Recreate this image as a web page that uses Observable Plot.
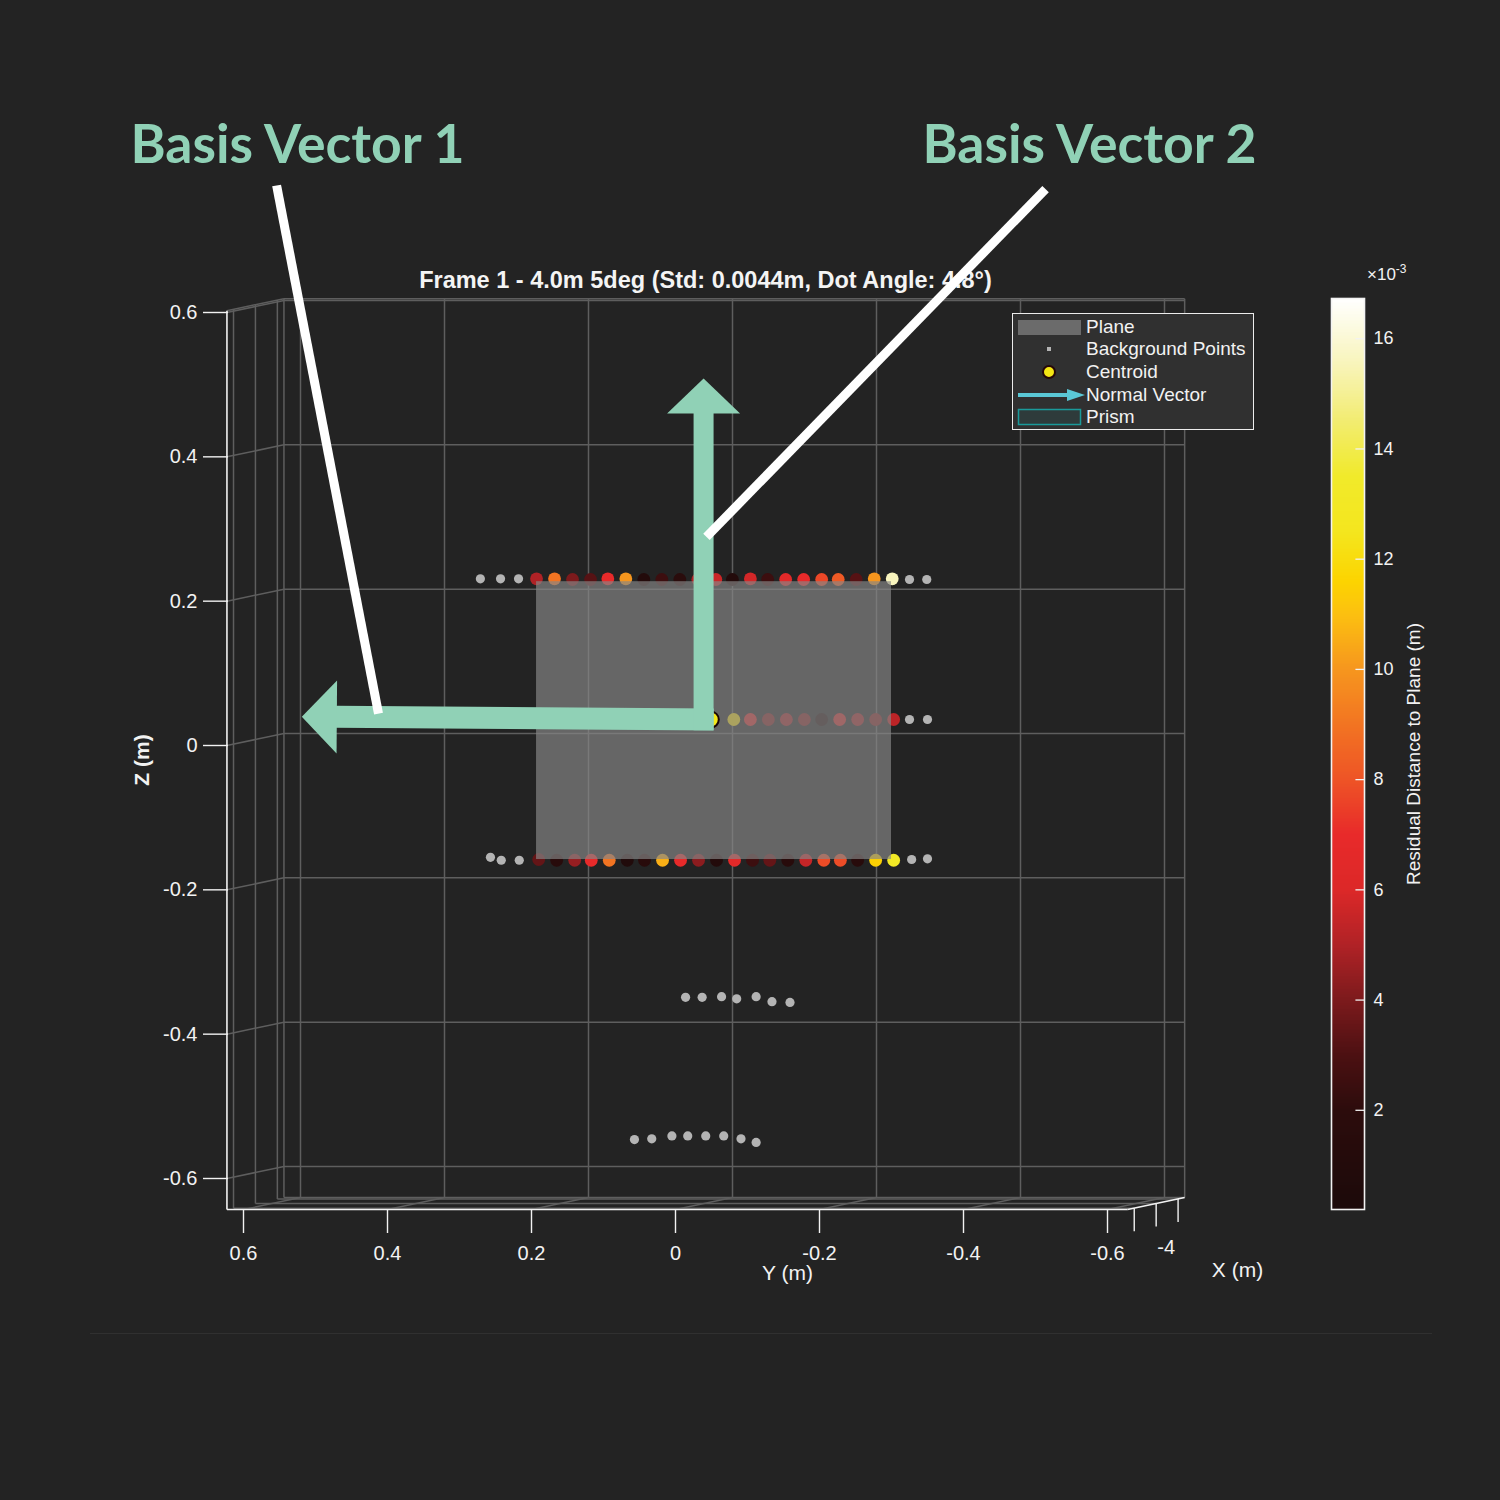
<!DOCTYPE html>
<html>
<head>
<meta charset="utf-8">
<script src="https://cdn.jsdelivr.net/npm/d3@7"></script>
<script src="https://cdn.jsdelivr.net/npm/@observablehq/plot@0.6"></script>
<style>
  html, body { margin: 0; padding: 0; background: #232323; }
  #page { position: relative; width: 1500px; height: 1500px; background: #232323; overflow: hidden;
          font-family: "Liberation Sans", Arial, sans-serif; color: #f2f2f2; }
  #main, #cbar { position: absolute; top: 0; }
  #main { left: 0; }
  #cbar { left: 1300px; }
  #legend { position: absolute; left: 1012px; top: 313px; width: 242px; height: 117px;
            border: 1.5px solid #ececec; background: #303030; box-sizing: border-box; }
  #legend .row { position: absolute; left: 73px; font-size: 19px; line-height: 22px; color: #f2f2f2; white-space: nowrap; }
  #legend svg { position: absolute; left: 0; top: 0; }
  #exp { position: absolute; left: 1367px; top: 262px; font-size: 17px; color: #f2f2f2; }
  #exp sup { font-size: 12px; }
  #sep { position: absolute; left: 90px; top: 1333px; width: 1342px; height: 0; border-top: 1px solid #303030; }
</style>
</head>
<body>
<div id="page">
  <div id="main"></div>
  <div id="cbar"></div>
  <div id="legend">
    <svg width="242" height="117">
      <rect x="5" y="6" width="63" height="15" fill="#6b6b6b"></rect>
      <rect x="34" y="33" width="4" height="4" fill="#b4b4b4"></rect>
      <circle cx="36" cy="58" r="6" fill="#f5e614" stroke="#260808" stroke-width="2"></circle>
      <line x1="5" y1="81" x2="58" y2="81" stroke="#5ac8d6" stroke-width="4"></line>
      <polygon points="54,75 72,81 54,87" fill="#5ac8d6"></polygon>
      <rect x="5.5" y="95.5" width="62" height="15" fill="#2e3b3b" stroke="#1a9a9a" stroke-width="1.5"></rect>
    </svg>
    <div class="row" style="top:2px">Plane</div>
    <div class="row" style="top:24px">Background Points</div>
    <div class="row" style="top:47px">Centroid</div>
    <div class="row" style="top:70px">Normal Vector</div>
    <div class="row" style="top:92px">Prism</div>
  </div>
  <div id="exp">×10<sup>-3</sup></div>
  <div id="sep"></div>
</div>
<script>
// ---------------- data ----------------
const chartTitle = "Frame 1 - 4.0m 5deg (Std: 0.0044m, Dot Angle: 4.8°)";
const yTicks = [0.6, 0.4, 0.2, 0, -0.2, -0.4, -0.6];          // horizontal axis "Y (m)"
const zTicks = [0.6, 0.4, 0.2, 0, -0.2, -0.4, -0.6];          // vertical axis "Z (m)"
const xTicks = [-4.05, -4, -3.95];                             // depth axis "X (m)"
const xTickLabels = ["", "-4", ""];
const boxY = [0.623, -0.628];
const boxZ = [0.6025, -0.643];
const boxX = [-4.065, -3.935];

// residual colour map (m)
const resStops  = [0.0002, 0.002, 0.003, 0.004, 0.005, 0.006, 0.007, 0.008, 0.009, 0.010, 0.011, 0.0116, 0.0125, 0.0135, 0.0145, 0.0155, 0.01673];
const resColors = ["#1c0a0a","#2c0c0c","#4c1012","#7c1a1c","#b02226","#dc2828","#e82a2a","#ee5426","#f27422","#f6961e","#fcc010","#fcd400","#f4e61e","#f1ea2a","#f2ec70","#f8f4b8","#ffffff"];
const cbTicks = [0.002, 0.004, 0.006, 0.008, 0.010, 0.012, 0.014, 0.016];
const cbLabel = "Residual Distance to Plane (m)";

// prism points (top edge)
const topRowY   = [0.193,0.168,0.143,0.118,0.094,0.069,0.044,0.019,-0.006,-0.031,-0.056,-0.079,-0.104,-0.128,-0.153,-0.178,-0.203,-0.226,-0.251,-0.276,-0.301];
const topRowZ   = [0.231,0.231,0.230,0.230,0.231,0.231,0.230,0.230,0.230,0.230,0.230,0.230,0.231,0.230,0.230,0.230,0.230,0.230,0.230,0.231,0.231];
const topRowRes = [0.0050,0.0090,0.0040,0.0032,0.0070,0.0100,0.0010,0.0025,0.0018,0.0050,0.0056,0.0010,0.0058,0.0025,0.0065,0.0070,0.0077,0.0082,0.0032,0.0100,0.0156];
// prism points (middle)
const midRowY   = [-0.081,-0.104,-0.129,-0.154,-0.179,-0.203,-0.228,-0.253,-0.278,-0.303];
const midRowZ   = [0.036,0.036,0.036,0.036,0.036,0.036,0.036,0.036,0.036,0.036];
const midRowRes = [0.0120,0.0060,0.0042,0.0048,0.0042,0.0008,0.0058,0.0048,0.0042,0.0053];
// prism points (bottom edge)
const botRowY   = [0.190,0.165,0.140,0.117,0.092,0.067,0.043,0.018,-0.007,-0.032,-0.057,-0.082,-0.107,-0.131,-0.156,-0.181,-0.206,-0.229,-0.253,-0.278,-0.303];
const botRowZ   = [-0.158,-0.159,-0.159,-0.159,-0.159,-0.159,-0.159,-0.159,-0.159,-0.159,-0.159,-0.159,-0.159,-0.159,-0.159,-0.159,-0.159,-0.159,-0.159,-0.159,-0.159];
const botRowRes = [0.0035,0.0015,0.0045,0.0070,0.0090,0.0008,0.0015,0.0106,0.0070,0.0043,0.0010,0.0065,0.0025,0.0035,0.0015,0.0055,0.0078,0.0078,0.0015,0.0115,0.0132];

// background points
const bgY = [0.271,0.243,0.218,-0.325,-0.349, -0.325,-0.350, 0.257,0.242,0.217,-0.328,-0.350,
             -0.014,-0.037,-0.064,-0.085,-0.112,-0.134,-0.159,
             0.057,0.033,0.005,-0.017,-0.042,-0.067,-0.091,-0.112];
const bgZ = [0.231,0.231,0.231,0.230,0.230, 0.036,0.036, -0.155,-0.159,-0.159,-0.158,-0.157,
             -0.349,-0.349,-0.348,-0.351,-0.348,-0.355,-0.356,
             -0.546,-0.545,-0.541,-0.541,-0.541,-0.541,-0.545,-0.550];

// centroid and fitted plane
const centroidY = [-0.049];
const centroidZ = [0.036];
const planeY = [0.193, -0.300];
const planeZ = [-0.158, 0.227];

// basis vectors (from, tip)
const basis1Y = [-0.053, 0.519];
const basis1Z = [0.036, 0.040];
const basis2Y = [-0.039, -0.039];
const basis2Z = [0.021, 0.5085];

// call-out lines and labels
const callout1Y = [0.554, 0.4125];
const callout1Z = [0.776, 0.0443];
const callout2Y = [-0.514, -0.043];
const callout2Z = [0.771, 0.289];
const basisLabels = ["Basis Vector 1", "Basis Vector 2"];
const basisLabelY = [0.757, -0.343];
const basisLabelZ = [0.831, 0.831];

// ---------------- layout / projection ----------------
const xRange = [243, 1107];
const yRange = [312, 1178];
const pxPerY = (xRange[1] - xRange[0]) / 1.2;
const pxPerZ = (yRange[1] - yRange[0]) / 1.2;
const depthShift = [57, 12]; // pixels: back plane shift right / up
function proj(X, Y, Z) {
  const t = (X - boxX[0]) / (boxX[1] - boxX[0]);
  return {x: Y - t * depthShift[0] / pxPerY, y: Z + t * depthShift[1] / pxPerZ};
}
function seg(a, b) { return {x1: a.x, y1: a.y, x2: b.x, y2: b.y}; }

const front = boxX[0], back = boxX[1];
const grid = [];
for (const y of yTicks) grid.push(seg(proj(back, y, boxZ[0]), proj(back, y, boxZ[1])));
for (const z of zTicks) grid.push(seg(proj(back, boxY[0], z), proj(back, boxY[1], z)));
grid.push(seg(proj(back, boxY[0], boxZ[0]), proj(back, boxY[0], boxZ[1])));
grid.push(seg(proj(back, boxY[1], boxZ[0]), proj(back, boxY[1], boxZ[1])));
grid.push(seg(proj(back, boxY[0], boxZ[0]), proj(back, boxY[1], boxZ[0])));
grid.push(seg(proj(back, boxY[0], boxZ[1]), proj(back, boxY[1], boxZ[1])));
for (const z of [...zTicks, boxZ[0]]) grid.push(seg(proj(front, boxY[0], z), proj(back, boxY[0], z)));
for (const X of xTicks) grid.push(seg(proj(X, boxY[0], boxZ[0]), proj(X, boxY[0], boxZ[1])));
for (const y of yTicks) grid.push(seg(proj(front, y, boxZ[1]), proj(back, y, boxZ[1])));
for (const X of xTicks) grid.push(seg(proj(X, boxY[0], boxZ[1]), proj(X, boxY[1], boxZ[1])));

const axisLines = [
  seg(proj(front, boxY[0], boxZ[0]), proj(front, boxY[0], boxZ[1])),
  seg(proj(front, boxY[0], boxZ[1]), proj(front, boxY[1], boxZ[1])),
  seg(proj(front, boxY[1], boxZ[1]), proj(back, boxY[1], boxZ[1]))
];
const depthTickLen = 23 / pxPerZ;
const depthTicks = xTicks.map((X, i) => {
  const p = proj(X, boxY[1], boxZ[1]);
  return {x1: p.x, y1: p.y, x2: p.x, y2: p.y - depthTickLen, label: xTickLabels[i]};
});

// points
const colored = [
  ...topRowY.map((Y, i) => ({Y, Z: topRowZ[i], res: topRowRes[i]})),
  ...midRowY.map((Y, i) => ({Y, Z: midRowZ[i], res: midRowRes[i]})),
  ...botRowY.map((Y, i) => ({Y, Z: botRowZ[i], res: botRowRes[i]}))
];
const background = bgY.map((Y, i) => ({Y, Z: bgZ[i]}));
const centroid = centroidY.map((Y, i) => ({Y, Z: centroidZ[i]}));
const plane = [{x1: planeY[0], x2: planeY[1], y1: planeZ[0], y2: planeZ[1]}];

// arrows
const headLen = 35, headHalf = 36.5; // px
function arrowParts(Ys, Zs, id) {
  const x0 = Ys[0] * pxPerY, y0 = Zs[0] * pxPerZ, x1 = Ys[1] * pxPerY, y1 = Zs[1] * pxPerZ;
  const L = Math.hypot(x1 - x0, y1 - y0), ux = (x1 - x0) / L, uy = (y1 - y0) / L;
  const bx = x1 - ux * headLen, by = y1 - uy * headLen;
  const shaft = {x1: Ys[0], y1: Zs[0], x2: (bx + ux * 2) / pxPerY, y2: (by + uy * 2) / pxPerZ};
  const head = [
    {id, x: (bx - uy * headHalf) / pxPerY, y: (by + ux * headHalf) / pxPerZ},
    {id, x: Ys[1], y: Zs[1]},
    {id, x: (bx + uy * headHalf) / pxPerY, y: (by - ux * headHalf) / pxPerZ},
    {id, x: (bx - uy * headHalf) / pxPerY, y: (by + ux * headHalf) / pxPerZ}
  ];
  return {shaft, head};
}
const a1 = arrowParts(basis1Y, basis1Z, 1);
const a2 = arrowParts(basis2Y, basis2Z, 2);
const callouts = [
  {x1: callout1Y[0], y1: callout1Z[0], x2: callout1Y[1], y2: callout1Z[1]},
  {x1: callout2Y[0], y1: callout2Z[0], x2: callout2Y[1], y2: callout2Z[1]}
];

const colorCfg = {type: "linear", domain: resStops, range: resColors, interpolate: "rgb"};
const fmt = d => (d === 0 ? "0" : String(d));
const teal = "#90d1b6";
const fontMain = "Liberation Sans, Arial, sans-serif";

const main = Plot.plot({
  width: 1500, height: 1500,
  marginLeft: 228, marginRight: 370, marginTop: 310, marginBottom: 291,
  style: {background: "transparent", color: "#f2f2f2", fontFamily: fontMain, overflow: "visible"},
  x: {domain: [0.6, -0.6], range: xRange},
  y: {domain: [0.6, -0.6], range: yRange},
  color: colorCfg,
  marks: [
    Plot.link(grid, {x1: "x1", y1: "y1", x2: "x2", y2: "y2", stroke: "#5e5e5e", strokeWidth: 1.5}),
    Plot.link(axisLines, {x1: "x1", y1: "y1", x2: "x2", y2: "y2", stroke: "#f2f2f2", strokeWidth: 1.6}),
    Plot.link(depthTicks, {x1: "x1", y1: "y1", x2: "x2", y2: "y2", stroke: "#f2f2f2", strokeWidth: 1.4}),
    Plot.text(depthTicks, {x: "x2", y: "y2", text: "label", dx: 10, dy: 21, fontSize: 20, fill: "#f2f2f2"}),
    Plot.axisX(yTicks, {anchor: "bottom", tickSize: 24, tickPadding: 12, fontSize: 20, tickFormat: fmt, stroke: "#f2f2f2", strokeWidth: 1.4, label: null}),
    Plot.axisY(zTicks, {anchor: "left", tickSize: 25, tickPadding: 6, fontSize: 20, tickFormat: fmt, stroke: "#f2f2f2", strokeWidth: 1.4, label: null}),
    Plot.text(["Z (m)"], {text: d => d, frameAnchor: "left", textAnchor: "middle", lineAnchor: "middle", dx: -86, rotate: -90, fontSize: 21, fontWeight: "bold", fill: "#f2f2f2"}),
    Plot.text(["Y (m)"], {text: d => d, frameAnchor: "bottom", textAnchor: "middle", lineAnchor: "middle", dx: 108, dy: 64, fontSize: 21, fill: "#f2f2f2"}),
    Plot.text(["X (m)"], {text: d => d, frameAnchor: "bottom-right", textAnchor: "middle", lineAnchor: "middle", dx: 107, dy: 61, fontSize: 21, fill: "#f2f2f2"}),
    Plot.text([chartTitle], {text: d => d, frameAnchor: "top", textAnchor: "middle", lineAnchor: "middle", dx: 26, dy: -30, fontSize: 23.5, fontWeight: "bold", fill: "#f4f4f4"}),
    Plot.dot(background, {x: "Y", y: "Z", r: 4.6, fill: "#b4b4b4", stroke: null}),
    Plot.dot(colored, {x: "Y", y: "Z", r: 6.4, fill: "res", stroke: null}),
    Plot.rect(plane, {x1: "x1", x2: "x2", y1: "y1", y2: "y2", fill: "#868686", fillOpacity: 0.68}),
    Plot.dot(centroid, {x: "Y", y: "Z", r: 8, fill: "#f4e81a", stroke: "#1a0606", strokeWidth: 2}),
    Plot.link([a1.shaft], {x1: "x1", y1: "y1", x2: "x2", y2: "y2", stroke: teal, strokeWidth: 22, strokeLinecap: "butt"}),
    Plot.link([a2.shaft], {x1: "x1", y1: "y1", x2: "x2", y2: "y2", stroke: teal, strokeWidth: 20, strokeLinecap: "butt"}),
    Plot.line([...a1.head, ...a2.head], {x: "x", y: "y", z: "id", fill: teal, stroke: "none", curve: "linear"}),
    Plot.link(callouts, {x1: "x1", y1: "y1", x2: "x2", y2: "y2", stroke: "#ffffff", strokeWidth: 9, strokeLinecap: "butt"}),
    Plot.text(basisLabels, {x: (d, i) => basisLabelY[i], y: (d, i) => basisLabelZ[i], text: d => d, textAnchor: "start", lineAnchor: "middle",
      fontSize: 53.5, fontWeight: 700, fontFamily: "Lato, Inter, sans-serif", fill: teal})
  ]
});
document.getElementById("main").appendChild(main);

const cb = Plot.plot({
  width: 200, height: 1500,
  marginLeft: 31, marginRight: 136, marginTop: 298, marginBottom: 291,
  style: {background: "transparent", color: "#f2f2f2", fontFamily: fontMain, overflow: "visible"},
  x: {domain: [0, 1], axis: null},
  y: {domain: [resStops[0], resStops[resStops.length - 1]]},
  color: colorCfg,
  marks: [
    Plot.raster({x1: 0, x2: 1, y1: resStops[0], y2: resStops[resStops.length - 1], width: 1, height: 600,
      fill: (x, y) => y, imageRendering: "pixelated"}),
    Plot.ruleY(cbTicks, {x1: 0.74, x2: 1, stroke: "#f2f2f2", strokeWidth: 1.3}),
    Plot.frame({stroke: "#f2f2f2", strokeWidth: 1.6}),
    Plot.axisY(cbTicks, {anchor: "right", tickSize: 0, tickPadding: 9, fontSize: 18, tickFormat: d => String(Math.round(d * 1000)), label: null}),
    Plot.text([cbLabel], {text: d => d, frameAnchor: "right", textAnchor: "middle", lineAnchor: "middle", rotate: -90, dx: 49, fontSize: 19, fill: "#f2f2f2"})
  ]
});
document.getElementById("cbar").appendChild(cb);
</script>
</body>
</html>
